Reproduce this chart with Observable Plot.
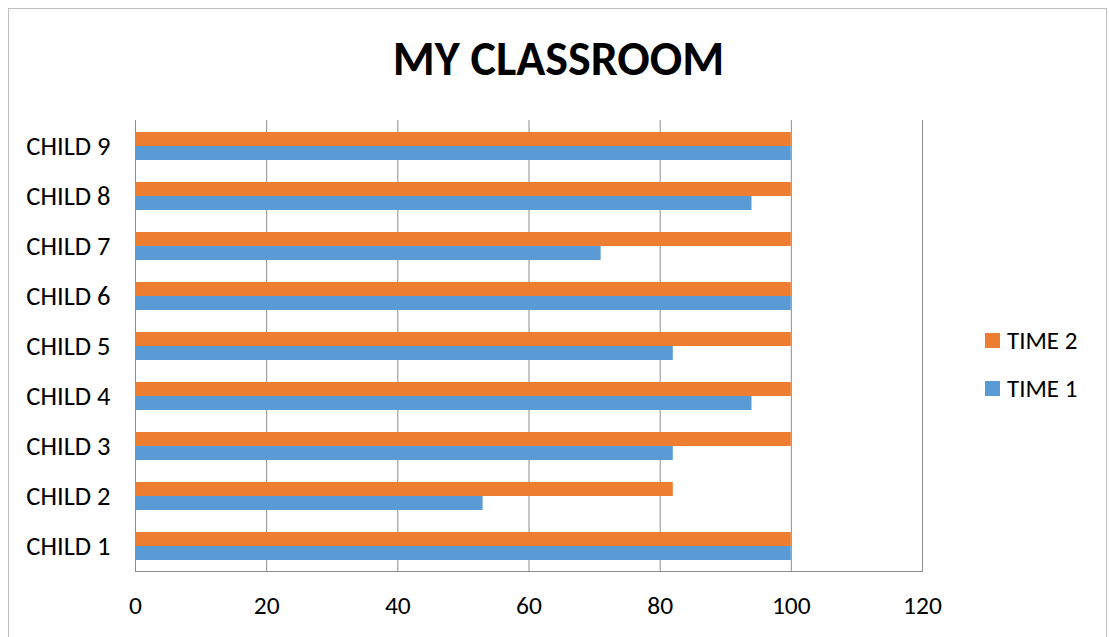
<!DOCTYPE html>
<html>
<head>
<meta charset="utf-8">
<script src="https://cdn.jsdelivr.net/npm/d3@7"></script>
<script src="https://cdn.jsdelivr.net/npm/@observablehq/plot@0.6"></script>
<style>
  html, body { margin: 0; padding: 0; background: #fff; }
  #wrap { position: relative; width: 1109px; height: 637px; overflow: hidden; font-family: Calibri, Carlito, Lato, sans-serif; }
  #border { position: absolute; left: 8px; top: 8px; width: 1099px; height: 660px; border: 1px solid #bfbfbf; box-sizing: border-box; }
  #title { position: absolute; left: 4px; width: 1109px; top: 27px; text-align: center; font-weight: bold; font-size: 48px; line-height: 64px; color: #000; }
  #chart { position: absolute; left: 0; top: 0; }
  .leg { position: absolute; left: 985px; display: flex; align-items: center; font-size: 25px; color: #000; }
  .sw { width: 15px; height: 15px; margin-right: 7px; }
</style>
</head>
<body>
<div id="wrap">
  <div id="border"></div>
  <div id="title">MY CLASSROOM</div>
  <div id="chart"></div>
  <div id="legend"></div>
</div>
<script>
const children = ["CHILD 1", "CHILD 2", "CHILD 3", "CHILD 4", "CHILD 5", "CHILD 6", "CHILD 7", "CHILD 8", "CHILD 9"];
const time1 = [100, 53, 82, 94, 82, 100, 71, 94, 100];
const time2 = [100, 82, 100, 100, 100, 100, 100, 100, 100];
const seriesNames = ["TIME 2", "TIME 1"];
const seriesColors = ["#ED7D31", "#5B9BD5"];
const xTicks = [0, 20, 40, 60, 80, 100, 120];

const t1 = children.map((c, i) => ({child: c, value: time1[i]}));
const t2 = children.map((c, i) => ({child: c, value: time2[i]}));

const chart = Plot.plot({
  width: 1109,
  height: 637,
  marginLeft: 135,
  marginRight: 187,
  marginTop: 120,
  marginBottom: 66,
  style: {fontSize: "25px", fontFamily: "Calibri, Carlito, Lato, sans-serif", color: "#000", background: "transparent"},
  x: {domain: [0, 120]},
  y: {domain: children.slice().reverse(), paddingInner: 0.44, paddingOuter: 0.22},
  marks: [
    Plot.ruleX(xTicks, {stroke: "#8c8c8c", strokeWidth: 1, strokeOpacity: 1}),
    Plot.frame({anchor: "bottom", stroke: "#8c8c8c"}),
    Plot.barX(t2, {x: "value", y: "child", fill: seriesColors[0], insetBottom: 14}),
    Plot.barX(t1, {x: "value", y: "child", fill: seriesColors[1], insetTop: 14}),
    Plot.axisY({tickSize: 0, tickPadding: 25, label: null, fontSize: 26.5}),
    Plot.axisX({ticks: xTicks, tickSize: 0, tickPadding: 24, label: null, fontSize: 25.5, tickFormat: d => String(d)})
  ]
});
document.getElementById("chart").appendChild(chart);

const legend = document.getElementById("legend");
const legTops = [325, 373];
seriesNames.forEach((name, i) => {
  const d = document.createElement("div");
  d.className = "leg";
  d.style.top = legTops[i] + "px";
  d.innerHTML = `<span class="sw" style="background:${seriesColors[i]}"></span><span>${name}</span>`;
  legend.appendChild(d);
});
</script>
</body>
</html>
